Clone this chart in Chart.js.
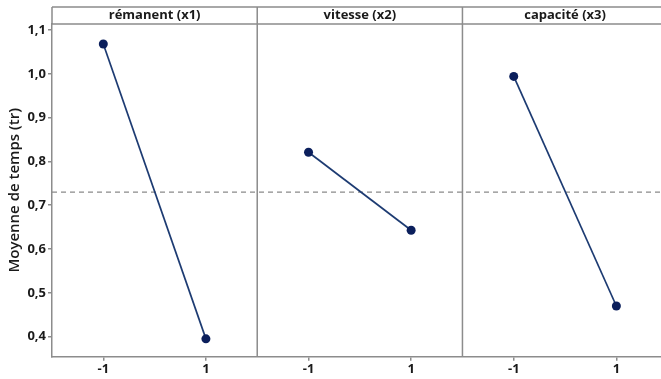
<!DOCTYPE html>
<html><head><meta charset="utf-8">
<script src="https://cdn.jsdelivr.net/npm/chart.js@4/dist/chart.umd.min.js"></script>
<style>html,body{margin:0;padding:0;background:#fff;overflow:hidden}</style>
</head><body>
<canvas id="c" width="661" height="379" style="display:block;width:661px;height:379px"></canvas>
<script>
// ---- data ----
const factors = ['rémanent (x1)', 'vitesse (x2)', 'capacité (x3)'];
const levels = [-1, 1];
const meansX1 = [1.068, 0.395];
const meansX2 = [0.821, 0.643];
const meansX3 = [0.994, 0.470];
const grandMean = 0.730;
const yTicks = [0.4, 0.5, 0.6, 0.7, 0.8, 0.9, 1.0, 1.1];
const yTitle = 'Moyenne de temps (tr)';

const seriesList = [meansX1, meansX2, meansX3];
const PANEL = 4;            // each panel spans -2..2 on the level axis
const X_MAX = 11.87;        // third panel cut off at the right edge
const Y_MIN = 0.3543, Y_MAX = 1.1137;
const HEADER_H = 17;
const LINE = '#1d3b72', DOT = '#0b1f5c', FRAME = '#8c8c8c', TXT = '#1a1a1a';
const FONT = '"Open Sans", "Noto Sans", sans-serif';

const datasets = seriesList.map((vals, i) => ({
  data: levels.map((lv, j) => ({ x: i * PANEL + 2 + lv, y: vals[j] })),
  borderColor: LINE, borderWidth: 1.7,
  pointRadius: 4.5, pointBackgroundColor: DOT, pointBorderColor: DOT, pointBorderWidth: 0,
  tension: 0, order: 1
}));
datasets.push({
  data: [{ x: 0, y: grandMean }, { x: X_MAX, y: grandMean }],
  borderColor: '#8a8a8a', borderWidth: 1.2, borderDash: [5, 4],
  pointRadius: 0, order: 2
});

// let the plot run to the right edge of the canvas (the reference is cut there)
const edgePlugin = {
  id: 'edge',
  afterLayout(chart) {
    const a = chart.chartArea, x = chart.scales.x;
    a.right = chart.width; a.width = a.right - a.left;
    x.right = chart.width; x.width = x.right - x.left;
    x.configure();
  }
};

const panelPlugin = {
  id: 'panels',
  afterDraw(chart) {
    const { ctx, chartArea: a, scales: { x } } = chart;
    const top = a.top - HEADER_H;
    ctx.save();
    ctx.strokeStyle = FRAME; ctx.lineWidth = 1.5;
    ctx.beginPath();
    ctx.moveTo(a.left, top); ctx.lineTo(a.right, top);
    ctx.moveTo(a.left, a.top); ctx.lineTo(a.right, a.top);
    ctx.moveTo(a.left, top); ctx.lineTo(a.left, a.top);
    for (let i = 1; i < factors.length; i++) {
      const px = x.getPixelForValue(i * PANEL);
      ctx.moveTo(px, top); ctx.lineTo(px, a.bottom);
    }
    ctx.stroke();
    ctx.fillStyle = TXT;
    ctx.font = 'bold 13px ' + FONT;
    ctx.textAlign = 'center'; ctx.textBaseline = 'middle';
    factors.forEach((f, i) => {
      const px = x.getPixelForValue(i * PANEL + 2);
      ctx.fillText(f, px, top + HEADER_H / 2);
    });
    ctx.restore();
  }
};

new Chart(document.getElementById('c'), {
  type: 'line',
  data: { datasets },
  plugins: [edgePlugin, panelPlugin],
  options: {
    responsive: false, animation: false, devicePixelRatio: 1,
    layout: { padding: { top: 24, right: 0, bottom: 0, left: 0 } },
    plugins: { legend: { display: false }, tooltip: { enabled: false } },
    scales: {
      x: {
        type: 'linear', min: 0, max: X_MAX,
        afterBuildTicks(s) {
          const t = [];
          for (let i = 0; i < factors.length; i++) levels.forEach(lv => t.push({ value: i * PANEL + 2 + lv }));
          s.ticks = t;
        },
        afterFit(s) { s.height = 22.3; },
        ticks: {
          autoSkip: false, maxRotation: 0, padding: 1, color: TXT,
          font: { family: FONT, size: 13, weight: 'bold' },
          callback: v => String(((v % PANEL) + PANEL) % PANEL - 2)
        },
        grid: { drawOnChartArea: false, drawTicks: true, tickLength: 4, color: FRAME, lineWidth: 1.5 },
        border: { display: true, color: FRAME, width: 1.5 }
      },
      y: {
        type: 'linear', min: Y_MIN, max: Y_MAX,
        afterBuildTicks(s) { s.ticks = yTicks.map(v => ({ value: v })); },
        afterFit(s) { s.width = 52; },
        ticks: {
          padding: 2, color: TXT,
          font: { family: FONT, size: 13, weight: 'bold' },
          callback: v => v.toFixed(1).replace('.', ',')
        },
        grid: { drawOnChartArea: false, drawTicks: true, tickLength: 4, color: FRAME, lineWidth: 1.5 },
        border: { display: true, color: FRAME, width: 1.5 },
        title: {
          display: true, text: yTitle, color: TXT, padding: { top: 6, bottom: 0 },
          font: { family: FONT, size: 15, weight: '600' }
        }
      }
    }
  }
});
</script>
</body></html>
